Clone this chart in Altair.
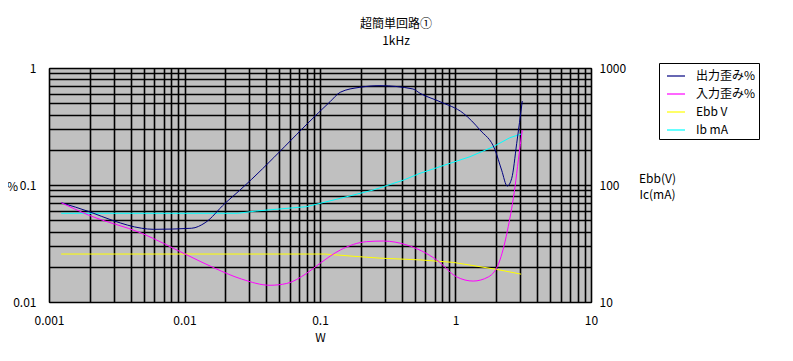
import altair as alt
import pandas as pd

# ---- data ----
out_x = [0.00123, 0.00201, 0.00299, 0.00483, 0.0059, 0.0113, 0.0142, 0.0199, 0.0257, 0.1186,
         0.141, 0.197, 0.277, 0.485, 0.547, 0.769, 1.143, 1.517, 1.96, 2.19, 2.41, 2.60, 2.83, 3.11]
out_y = [0.0706, 0.0588, 0.0495, 0.0427, 0.0418, 0.0427, 0.0476, 0.0697, 0.0906, 0.515,
         0.620, 0.684, 0.706, 0.662, 0.608, 0.515, 0.410, 0.295, 0.199, 0.134, 0.098, 0.114, 0.227, 0.522]

in_x = [0.00123, 0.00195, 0.00483, 0.0101, 0.0168, 0.0264, 0.0428, 0.0568, 0.0798, 0.1, 0.141,
        0.221, 0.294, 0.437, 0.726, 1.02, 1.35, 1.75, 2.13, 2.45, 2.75, 2.91, 3.11]
in_y = [0.0706, 0.0554, 0.0387, 0.0257, 0.0194, 0.0157, 0.0139, 0.0144, 0.0176, 0.0214, 0.0278,
        0.0328, 0.0332, 0.0307, 0.0229, 0.0164, 0.0151, 0.0164, 0.0229, 0.044, 0.0967, 0.164, 0.295]

ebb_x = [0.00123, 0.109, 0.176, 0.277, 0.547, 0.964, 2.01, 3.05]
ebb_y = [25.7, 25.7, 24.6, 23.7, 22.9, 21.8, 19.0, 17.3]

ib_x = [0.00123, 0.0247, 0.0341, 0.0798, 0.141, 0.247, 0.412, 0.547, 1.28, 1.90, 2.52, 3.05]
ib_y = [57.3, 57.3, 60.0, 65.3, 76.9, 90.6, 110, 125.9, 174.6, 212.6, 253.6, 272.9]

SERIES = ["出力歪み%", "入力歪み%", "Ebb V", "Ib mA"]
COLORS = ["#000080", "#FF00FF", "#FFFF00", "#00FFFF"]

x_major = [0.001, 0.01, 0.1, 1, 10]
y_major_left = [0.01, 0.1, 1]
y_major_right = [10, 100, 1000]

FONT = "Noto Sans CJK JP"


def frame(xs, ys, name):
    return pd.DataFrame({"W": xs, "v": ys, "series": name, "order": list(range(len(xs)))})


left_df = pd.concat([frame(out_x, out_y, SERIES[0]), frame(in_x, in_y, SERIES[1])], ignore_index=True)
right_df = pd.concat([frame(ebb_x, ebb_y, SERIES[2]), frame(ib_x, ib_y, SERIES[3])], ignore_index=True)

x_vals = [round(m * 10.0 ** e, 6) for e in range(-3, 1) for m in range(1, 10)] + [10]
y_vals = [round(m * 10.0 ** e, 6) for e in (-2, -1) for m in range(1, 10)] + [1]

x_enc = alt.X(
    "W:Q",
    scale=alt.Scale(type="log", domain=[0.001, 10], nice=False),
    axis=alt.Axis(
        values=x_vals,
        labelExpr="indexof(" + str(x_major) + ", datum.value) >= 0 ? format(datum.value, '~g') : ''",
        labelOverlap=False, labelFlush=False, labelPadding=18, labelBaseline="middle",
        ticks=False, tickSize=0, grid=True, gridColor="black", gridWidth=1.6,
        domainColor="black", title="W", titleBaseline="middle", titleY=35,
        titleFontWeight="normal",
    ),
)

legend = alt.Legend(
    title=None, orient="none", legendX=610, legendY=-5, direction="vertical",
    symbolType="stroke", symbolSize=324, symbolStrokeWidth=1.2, symbolOffset=4,
    strokeColor="black", fillColor="white", padding=3, rowPadding=2,
    labelFont=FONT, labelFontSize=12, labelColor="black", labelOffset=10, cornerRadius=0,
)
color = alt.Color("series:N", scale=alt.Scale(domain=SERIES, range=COLORS), legend=legend)

left = alt.Chart(left_df).mark_line(strokeWidth=1, interpolate="monotone", clip=True).encode(
    x=x_enc,
    y=alt.Y(
        "v:Q",
        scale=alt.Scale(type="log", domain=[0.01, 1], nice=False),
        axis=alt.Axis(
            values=y_vals,
            labelExpr="indexof(" + str(y_major_left) + ", datum.value) >= 0 ? format(datum.value, '~g') : ''",
            labelOverlap=False, labelFlush=False, labelPadding=13, labelBaseline="middle",
            ticks=False, tickSize=0, grid=True, gridColor="black", gridWidth=1.6,
            domainColor="black", title="%", titleAngle=0, titleX=-37, titleY=118,
            titleAlign="center", titleBaseline="middle", titleFontWeight="normal",
        ),
    ),
    color=color,
    order="order:Q",
)

right = alt.Chart(right_df).mark_line(strokeWidth=1, clip=True).encode(
    x=x_enc,
    y=alt.Y(
        "v:Q",
        scale=alt.Scale(type="log", domain=[10, 1000], nice=False),
        axis=alt.Axis(
            orient="right", values=y_major_right, format="~g",
            labelOverlap=False, labelFlush=False, labelPadding=8, labelBaseline="middle",
            ticks=False, tickSize=0, grid=False, domainColor="black",
            title=["Ebb(V)", "Ic(mA)"], titleAngle=0, titleX=66, titleY=110,
            titleAlign="center", titleBaseline="middle", titleLineHeight=16,
            titleFontWeight="normal",
        ),
    ),
    color=color,
    order="order:Q",
)

chart = (
    alt.layer(right, left)
    .resolve_scale(y="independent")
    .properties(
        width=542,
        height=234,
        autosize=alt.AutoSizeParams(type="none"),
        padding={"left": 41, "top": 60, "right": 194, "bottom": 46},
        background="white",
        view=alt.ViewBackground(fill="#C0C0C0", stroke="black", strokeWidth=1),
        title=alt.TitleParams(
            text="超簡単回路①", subtitle="1kHz", font=FONT, fontSize=12, fontWeight="normal",
            color="black", subtitleFont=FONT, subtitleFontSize=12, subtitleColor="black",
            subtitlePadding=5, anchor="middle", frame="group", dx=76, offset=14,
        ),
    )
    .configure_axis(labelFont=FONT, labelFontSize=12, labelColor="black",
                    titleFont=FONT, titleFontSize=12, titleFontWeight="normal", titleColor="black")
    .configure_legend(strokeWidth=1)
)

chart.save("out.html", embed_options={"renderer": "svg", "actions": False})
